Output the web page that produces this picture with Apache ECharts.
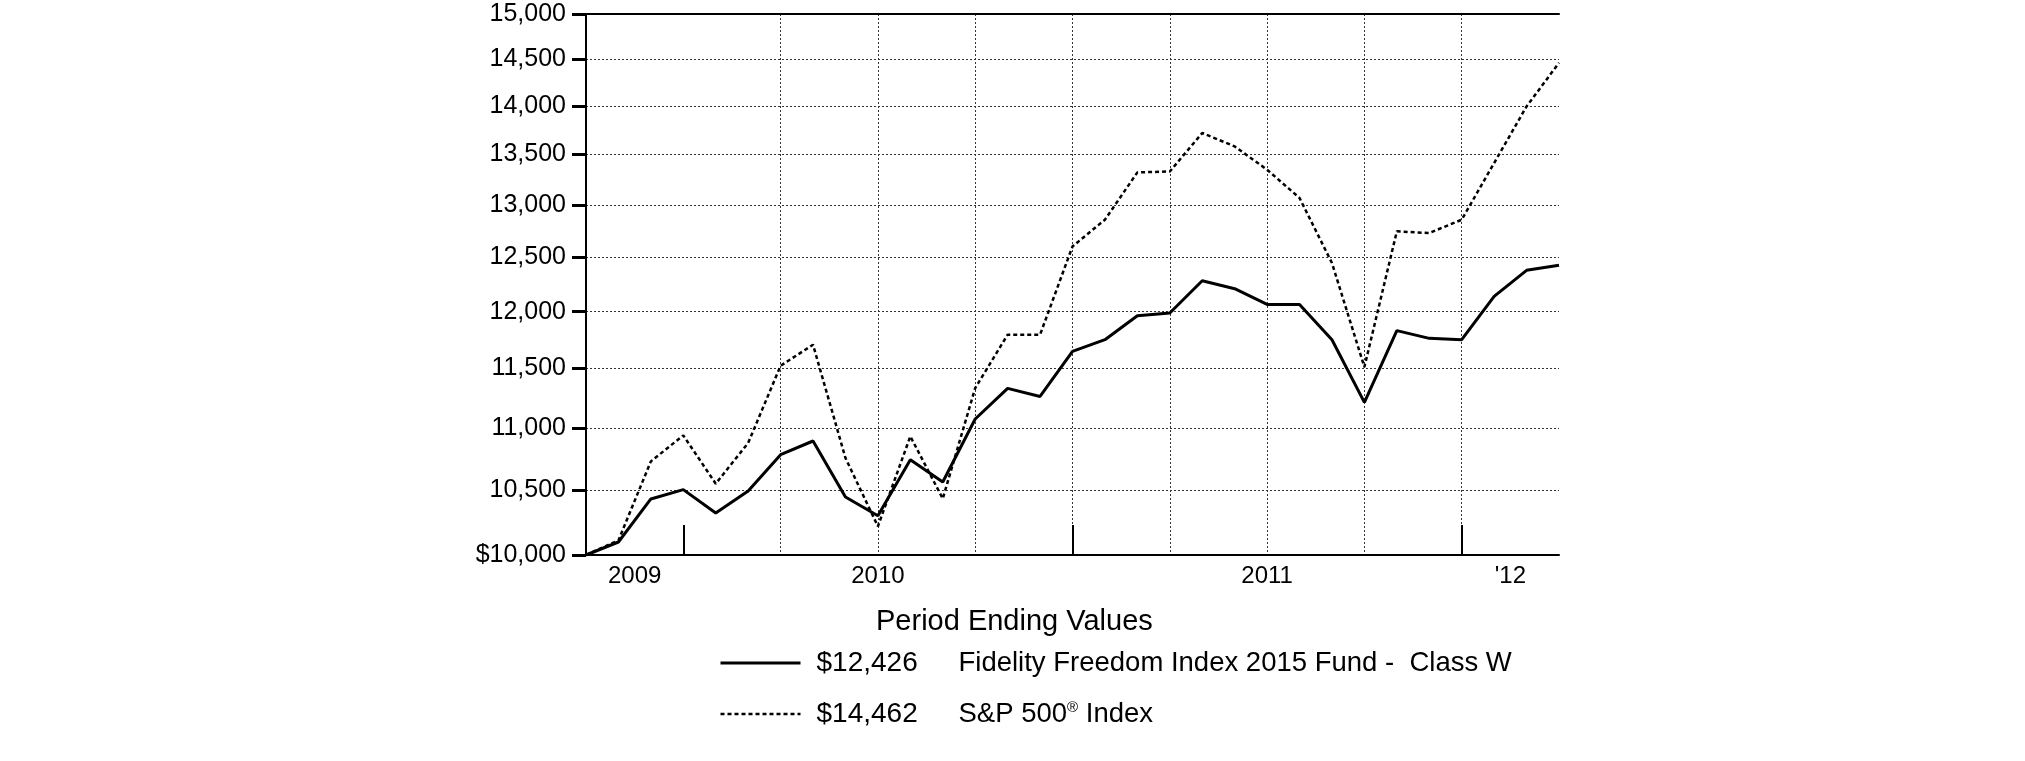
<!DOCTYPE html>
<html>
<head>
<meta charset="utf-8">
<script src="https://cdn.jsdelivr.net/npm/echarts@6/dist/echarts.min.js"></script>
<style>
  html, body { margin: 0; padding: 0; background: #fff; }
  #chart { width: 2025px; height: 761px; }
</style>
</head>
<body>
<div id="chart"></div>
<script>
// ---- data ----
const periods = [
  '2009-10-02','2009-10-31','2009-11-30','2009-12-31',
  '2010-01-31','2010-02-28','2010-03-31','2010-04-30','2010-05-31','2010-06-30',
  '2010-07-31','2010-08-31','2010-09-30','2010-10-31','2010-11-30','2010-12-31',
  '2011-01-31','2011-02-28','2011-03-31','2011-04-30','2011-05-31','2011-06-30',
  '2011-07-31','2011-08-31','2011-09-30','2011-10-31','2011-11-30','2011-12-31',
  '2012-01-31','2012-02-29','2012-03-31'
];
const fundValues = [
  10000, 10098, 10429, 10502, 10320, 10491, 10781, 10892, 10444, 10299,
  10740, 10562, 11073, 11330, 11262, 11649, 11751, 11964, 11989, 12282,
  12209, 12066, 12066, 11751, 11212, 11831, 11763, 11751, 12139, 12378, 12426
];
const spValues = [
  10000, 10110, 10727, 10938, 10549, 10876, 11524, 11707, 10754, 10217,
  10930, 10431, 11333, 11795, 11795, 12602, 12857, 13321, 13330, 13720,
  13583, 13348, 13068, 12446, 11513, 12745, 12729, 12857, 13415, 13996, 14462
];
const yTickValues = [10000, 10500, 11000, 11500, 12000, 12500, 13000, 13500, 14000, 14500, 15000];
const yearLabels = ['2009', '2010', '2011', "'12"];
const seriesNames = ['Fidelity Freedom Index 2015 Fund -  Class W', 'S&P 500® Index'];
const endingValues = ['$12,426', '$14,462'];

// ---- derived ----
const FONT = 'Liberation Sans, Arial, sans-serif';
const monthOf = d => parseInt(d.slice(5, 7), 10);
const lastIdx = periods.length - 1;
const yearEnds = periods.map((d, i) => (monthOf(d) === 12 ? i : -1)).filter(i => i >= 0);
const bounds = [0].concat(yearEnds, [lastIdx]);
const yearMids = [];
for (let k = 0; k < bounds.length - 1; k++) yearMids.push((bounds[k] + bounds[k + 1]) / 2);
const yLog = yTickValues.map(v => Math.log10(v));
const fmtNum = n => n.toString().replace(/\B(?=(\d{3})+(?!\d))/g, ',');

const fundLine = { color: '#000', width: 3, type: 'solid' };
const spLine = { color: '#000', width: 2.5, type: [4, 3] };

const chart = echarts.init(document.getElementById('chart'));
chart.setOption({
  animation: false,
  backgroundColor: '#fff',
  title: {
    text: 'Period Ending Values',
    left: 876, top: 607, padding: 0,
    textStyle: { fontSize: 29, fontWeight: 'normal', color: '#000', fontFamily: FONT }
  },
  legend: {
    orient: 'vertical',
    left: 719, top: 646, padding: 0,
    itemWidth: 80, itemHeight: 2, itemGap: 17,
    itemStyle: { opacity: 0 },
    data: [
      { name: seriesNames[0], lineStyle: fundLine },
      { name: seriesNames[1], lineStyle: spLine }
    ],
    formatter: name => {
      const i = seriesNames.indexOf(name);
      const label = name.indexOf('®') >= 0
        ? '{n|' + name.split('®')[0] + '}{s|®}{n|' + name.split('®')[1] + '}'
        : '{n|' + name + '}';
      return '{v|' + endingValues[i] + '}' + label;
    },
    textStyle: {
      color: '#000', fontSize: 28, fontFamily: FONT, lineHeight: 34,
      rich: {
        v: { fontSize: 28, fontFamily: FONT, color: '#000', width: 142, padding: [0, 0, 0, 11] },
        n: { fontSize: 27.5, fontFamily: FONT, color: '#000' },
        s: { fontSize: 15, fontFamily: FONT, color: '#000', padding: [0, 0, 12, 0] }
      }
    }
  },
  grid: { left: 586, right: 466, top: 14, bottom: 206 },
  xAxis: [
    {
      type: 'category', data: periods, boundaryGap: false, position: 'bottom',
      axisLine: { show: true, onZero: false, lineStyle: { color: '#000', width: 2 } },
      axisTick: {
        show: true, inside: true, length: 30,
        interval: (idx) => yearEnds.indexOf(idx) >= 0,
        lineStyle: { color: '#000', width: 2 }
      },
      axisLabel: { show: false },
      splitLine: {
        show: true,
        interval: (idx) => idx >= 6 && idx < lastIdx && monthOf(periods[idx]) % 3 === 0,
        lineStyle: { color: '#333', width: 1, type: [2, 2] }
      }
    },
    {
      type: 'value', min: 0, max: lastIdx, position: 'bottom',
      axisLine: { show: false }, axisTick: { show: false }, splitLine: { show: false },
      axisLabel: {
        customValues: yearMids,
        formatter: (v) => yearLabels[yearMids.indexOf(v)],
        fontSize: 24, color: '#000', fontFamily: FONT, margin: 9
      }
    },
    {
      type: 'value', min: 0, max: lastIdx, position: 'top',
      axisLine: { show: true, lineStyle: { color: '#000', width: 2 } },
      axisTick: { show: false }, axisLabel: { show: false }, splitLine: { show: false }
    }
  ],
  yAxis: {
    type: 'value',
    min: yLog[0], max: yLog[yLog.length - 1],
    axisLine: { show: true, lineStyle: { color: '#000', width: 2 } },
    axisTick: { show: true, customValues: yLog, length: 14, lineStyle: { color: '#000', width: 3 } },
    axisLabel: {
      customValues: yLog,
      formatter: (v) => {
        const raw = Math.round(Math.pow(10, v) / 10) * 10;
        return (raw === yTickValues[0] ? '$' : '') + fmtNum(raw);
      },
      fontSize: 25, color: '#000', fontFamily: FONT, margin: 20
    },
    splitLine: { show: true, lineStyle: { color: '#333', width: 1, type: [2, 2] } }
  },
  series: [
    {
      name: seriesNames[0], type: 'line', xAxisIndex: 0, yAxisIndex: 0,
      data: fundValues.map(v => Math.log10(v)),
      symbol: 'none', color: '#000',
      lineStyle: fundLine
    },
    {
      name: seriesNames[1], type: 'line', xAxisIndex: 0, yAxisIndex: 0,
      data: spValues.map(v => Math.log10(v)),
      symbol: 'none', color: '#000',
      lineStyle: spLine
    }
  ]
});
</script>
</body>
</html>
